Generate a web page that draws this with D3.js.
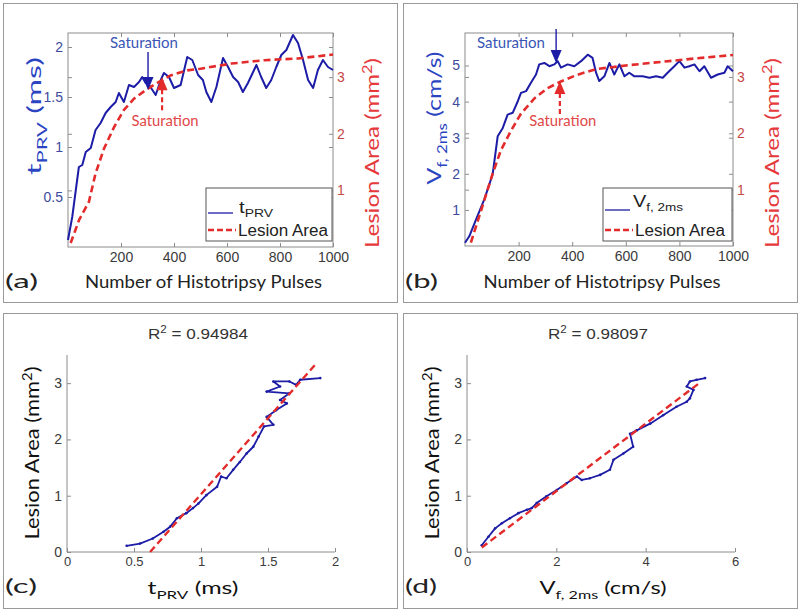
<!DOCTYPE html>
<html><head><meta charset="utf-8">
<script src="https://cdn.jsdelivr.net/npm/d3@7"></script>
<style>
body{margin:0;background:#fff;}
svg{display:block;}
text{font-family:"Liberation Sans",Arial,sans-serif;}
</style></head><body>
<svg id="c" width="800" height="615"></svg>
<script>
// ---------------- DATA ----------------
// Panel (a): t_PRV vs pulses
const pulsesA = [0,16,41,54,67,86,104,123,142,161,180,192,211,230,249,268,280,293,306,331,350,362,381,400,425,450,469,491,509,522,541,560,585,604,623,642,660,679,711,729,748,767,786,805,824,849,868,887,906,925,943,962,981,1000];
const tprvA   = [0.07,0.30,0.80,0.82,0.95,0.99,1.17,1.24,1.34,1.40,1.45,1.54,1.45,1.62,1.60,1.65,1.70,1.64,1.62,1.52,1.67,1.74,1.70,1.59,1.62,1.90,1.87,1.72,1.67,1.55,1.45,1.60,1.89,1.80,1.70,1.65,1.55,1.64,1.82,1.70,1.59,1.67,1.80,1.92,1.97,2.12,2.04,1.87,1.67,1.59,1.77,1.87,1.80,1.77];
const lesionPulsesA = [10,42,79,104,136,174,211,249,293,337,387,450,500,617,742,868,1000];
const lesionA       = [0.07,0.48,0.80,1.30,1.74,2.12,2.42,2.62,2.77,2.90,3.03,3.12,3.15,3.24,3.30,3.33,3.40];
// Panel (b): V_f,2ms vs pulses
const pulsesB = [0,16,41,72,103,122,141,159,178,197,209,228,246,265,277,296,315,333,346,358,383,408,433,458,476,489,501,520,539,557,576,595,613,632,663,688,713,738,756,781,800,819,837,856,875,893,918,943,968,980,1000];
const vfB     = [0.09,0.27,0.73,1.29,1.98,3.04,3.27,3.64,3.69,4.01,4.24,4.29,4.52,4.75,5.03,5.07,4.98,5.03,5.12,4.94,5.03,4.98,5.12,5.30,5.21,4.80,4.57,4.70,5.07,4.75,5.03,4.70,4.80,4.70,4.70,4.66,4.70,4.66,4.80,4.98,5.12,4.94,4.98,5.03,4.84,4.98,4.66,4.75,4.80,4.98,4.84];
const lesionPulsesB = [22,60,103,134,172,209,259,308,358,420,489,613,738,862,1000];
const lesionB       = [0.06,0.63,1.28,1.70,2.05,2.35,2.62,2.80,2.92,3.04,3.14,3.21,3.27,3.33,3.39];
// Panel (c): lesion area vs t_PRV
const tprvC   = [0.445,0.545,0.64,0.72,0.77,0.82,0.89,0.94,0.98,1.04,1.12,1.15,1.19,1.24,1.29,1.34,1.39,1.43,1.47,1.54,1.49,1.56,1.64,1.59,1.66,1.49,1.59,1.54,1.66,1.71,1.74,1.89];
const lesionC = [0.11,0.15,0.24,0.36,0.45,0.60,0.69,0.78,0.86,1.01,1.16,1.34,1.31,1.46,1.60,1.75,1.87,2.05,2.23,2.26,2.40,2.52,2.64,2.70,2.82,2.85,2.94,3.03,3.03,2.97,3.06,3.09];
const fitCx = [0.62,1.86];
const fitCy = [0.0,3.35];
// Panel (d): lesion area vs V_f,2ms
const vfD     = [0.33,0.48,0.63,0.78,0.96,1.15,1.34,1.45,1.56,1.78,2.01,2.23,2.46,2.57,2.75,2.98,3.20,3.28,3.50,3.72,3.65,3.80,4.10,4.39,4.69,4.92,4.99,5.07,4.92,4.99,5.14,5.33];
const lesionD = [0.12,0.27,0.42,0.51,0.60,0.69,0.75,0.78,0.87,0.99,1.10,1.22,1.34,1.28,1.31,1.37,1.46,1.64,1.75,1.87,2.10,2.16,2.28,2.43,2.58,2.67,2.73,2.88,2.94,3.03,3.06,3.09];
const fitDx = [0.33,5.2];
const fitDy = [0.08,3.0];
// Ticks & labels
const pulseTicks = [200,400,600,800,1000];
const tprvTicks = [0.5,1,1.5,2];
const vfTicks = [1,2,3,4,5];
const lesionTicks = [1,2,3];
const tprvTicksC = [0,0.5,1,1.5,2];
const vfTicksD = [0,2,4,6];
const lesionTicksCD = [0,1,2,3];
const r2Values = ["0.94984","0.98097"];
const panelLetters = ["(a)","(b)","(c)","(d)"];
// Saturation annotations: [pulse, value]
const satA = {blue:[302,1.57], red:[355,3.0]};
const satB = {blue:[340,5.07], red:[354,2.93]};

// ---------------- DRAW ----------------
const svg = d3.select('#c');
const CAL = 'Lato,"Open Sans",sans-serif';
const ARIAL = '"Liberation Sans",Arial,sans-serif';
const BLUE = '#1c1ca6', RED = '#e32b2b';
const BLUE_LBL = '#2b44c2', RED_LBL = '#e5393b';
const BLUE_TICK = '#3d4a9e', RED_TICK = '#c54848', GREY_TICK = '#3a3a3a';
const AXC = '#8c8c8c';

// outer panel borders
[[3,3],[403,3],[3,313],[403,313]].forEach(([x,y],i)=>{
  svg.append('rect').attr('x',x+0.5).attr('y',y+0.5).attr('width',394).attr('height',i<2?299:295)
    .attr('fill','none').attr('stroke','#9a9a9a').attr('stroke-width',1);
});

function styleAxis(sel, color, size){
  sel.select('.domain').remove();
  sel.selectAll('.tick line').attr('stroke',AXC);
  sel.selectAll('.tick text').attr('fill',color).style('font-size',(size||14)+'px').style('font-family',ARIAL);
}

function fitText(t, len){ if(len) t.attr('textLength',len).attr('lengthAdjust','spacingAndGlyphs'); return t; }

function subText(g, x, y, parts, opts){
  const t = g.append('text').attr('x',x).attr('y',y)
    .attr('text-anchor',opts.anchor||'middle').attr('fill',opts.fill).style('font-family',opts.family||CAL).style('font-size',opts.size+'px');
  if(opts.rotate) t.attr('transform',`rotate(-90,${x},${y})`);
  let shift=0;
  parts.forEach(p=>{
    const ts=t.append('tspan').text(p.t);
    let target = p.sub? opts.size*0.28 : p.sup? -opts.size*0.38 : 0;
    if(target!==shift){ ts.attr('dy',target-shift); shift=target; }
    if(p.sub||p.sup) ts.style('font-size',(opts.size*0.68)+'px');
  });
  fitText(t, opts.len);
  return t;
}

function arrowHead(g, x, ytip, dir, color){ // dir: +1 pointing down, -1 pointing up
  const h=13, w=5.5;
  g.append('path').attr('d',`M${x},${ytip} L${x-w},${ytip-dir*h} L${x+w},${ytip-dir*h} Z`).attr('fill',color);
}

function dualPanel(o){
  const g = svg.append('g');
  const x = d3.scaleLinear([0,1000],[o.l,o.r]);
  const yL = d3.scaleLinear(o.yLdom,[o.b,o.t]);
  const yR = d3.scaleLinear([0,3.78],[o.b,o.t]);
  g.append('rect').attr('x',o.l).attr('y',o.t).attr('width',o.r-o.l).attr('height',o.b-o.t).attr('fill','#fff').attr('stroke',AXC);
  styleAxis(g.append('g').attr('transform',`translate(0,${o.b})`).call(d3.axisBottom(x).tickValues(pulseTicks).tickSize(-4).tickPadding(5).tickFormat(d3.format('d'))),GREY_TICK);
  styleAxis(g.append('g').attr('transform',`translate(0,${o.t})`).call(d3.axisTop(x).tickValues(pulseTicks).tickSize(-4).tickFormat('')),GREY_TICK);
  styleAxis(g.append('g').attr('transform',`translate(${o.l},0)`).call(d3.axisLeft(yL).tickValues(o.yLticks).tickSize(-4).tickPadding(5).tickFormat(d=>d)),BLUE_TICK);
  styleAxis(g.append('g').attr('transform',`translate(${o.r},0)`).call(d3.axisRight(yL).tickValues(o.yLticks).tickSize(-4).tickFormat('')),BLUE_TICK);
  styleAxis(g.append('g').attr('transform',`translate(${o.r},0)`).call(d3.axisRight(yR).tickValues(lesionTicks).tickSize(-4).tickPadding(4).tickFormat(d=>d)),RED_TICK);
  styleAxis(g.append('g').attr('transform',`translate(${o.l},0)`).call(d3.axisLeft(yR).tickValues(lesionTicks).tickSize(-4).tickFormat('')),RED_TICK);

  const lineR = d3.line().x(d=>x(d[0])).y(d=>yR(d[1]));
  const lineL = d3.line().x(d=>x(d[0])).y(d=>yL(d[1]));
  g.append('path').attr('d',lineL(d3.zip(o.px,o.py))).attr('fill','none').attr('stroke',BLUE).attr('stroke-width',2).attr('stroke-linejoin','round');
  g.append('path').attr('d',lineR(d3.zip(o.lx,o.ly))).attr('fill','none').attr('stroke',RED).attr('stroke-width',2.6).attr('stroke-dasharray','7,4');

  // annotations
  const bx = x(o.sat.blue[0]), by = yL(o.sat.blue[1]);
  g.append('line').attr('x1',bx).attr('x2',bx).attr('y1',o.blueTop).attr('y2',by-10).attr('stroke',BLUE).attr('stroke-width',1.4);
  arrowHead(g,bx,by,1,BLUE);
  fitText(g.append('text').attr('x',o.blueTextX).attr('y',48).attr('text-anchor','middle').attr('fill','#3a55b5').style('font-family',CAL).style('font-size','15px').text('Saturation'),68);
  const rx = x(o.sat.red[0]), ry = yR(o.sat.red[1]);
  g.append('line').attr('x1',rx).attr('x2',rx).attr('y1',ry+12).attr('y2',ry+36).attr('stroke',RED).attr('stroke-width',2.2).attr('stroke-dasharray','5,3');
  arrowHead(g,rx,ry,-1,RED);
  fitText(g.append('text').attr('x',rx+3).attr('y',126).attr('text-anchor','middle').attr('fill','#e04848').style('font-family',CAL).style('font-size','15px').text('Saturation'),67);

  // legend
  const lg = g.append('g');
  lg.append('rect').attr('x',o.lgx).attr('y',188).attr('width',o.r-1-o.lgx).attr('height',53).attr('fill','#fff').attr('stroke','#555');
  lg.append('line').attr('x1',o.lgx+2).attr('x2',o.lgx+27).attr('y1',o.lgLineY).attr('y2',o.lgLineY).attr('stroke',BLUE).attr('stroke-width',1.3);
  subText(lg,o.lgx+o.lgTextDx,o.lgTextY,o.legendParts,{anchor:'start',fill:'#222',size:16,family:ARIAL,len:o.lgLen});
  lg.append('line').attr('x1',o.lgx+2).attr('x2',o.lgx+30).attr('y1',230).attr('y2',230).attr('stroke',RED).attr('stroke-width',2.6).attr('stroke-dasharray','6,3');
  fitText(lg.append('text').attr('x',o.lgx+32).attr('y',236).attr('fill','#222').style('font-size','16px').text('Lesion Area'),90);

  // axis labels
  subText(g,o.yLabelX,o.yLabelY,o.yLabelParts,{fill:BLUE_LBL,size:20,rotate:true,len:o.yLabelLen});
  subText(g,o.r+46,153,[{t:'Lesion Area (mm'},{t:'2',sup:true},{t:')'}],{fill:RED_LBL,size:19,rotate:true,len:190});
  fitText(g.append('text').attr('x',(o.l+o.r)/2+3).attr('y',288).attr('text-anchor','middle').attr('fill','#222').style('font-family',CAL).style('font-size','18px').text('Number of Histotripsy Pulses'),237);
  fitText(g.append('text').attr('x',o.letterX).attr('y',288).attr('fill','#222').style('font-family',CAL).style('font-size','20px').text(o.letter),33);
}

dualPanel({l:68,r:333,t:33,b:247,yLdom:[0,2.14],yLticks:tprvTicks,px:pulsesA,py:tprvA,lx:lesionPulsesA,ly:lesionA,
  sat:satA,blueTop:52,blueTextX:144,lgx:206,lgLineY:213,lgTextY:213,lgTextDx:33,lgLen:34,
  legendParts:[{t:'t'},{t:'PRV',sub:true}],
  yLabelX:41,yLabelY:116,yLabelLen:118,yLabelParts:[{t:'t'},{t:'PRV',sub:true},{t:' (ms)'}],letter:panelLetters[0],letterX:5});

dualPanel({l:465,r:733,t:33,b:246,yLdom:[0,5.9],yLticks:vfTicks,px:pulsesB,py:vfB,lx:lesionPulsesB,ly:lesionB,
  sat:satB,blueTop:29,blueTextX:511,lgx:603,lgLineY:210,lgTextY:207,lgTextDx:30,lgLen:50,
  legendParts:[{t:'V'},{t:'f, 2ms',sub:true}],
  yLabelX:441,yLabelY:118,yLabelLen:133,yLabelParts:[{t:'V'},{t:'f, 2ms',sub:true},{t:' (cm/s)'}],letter:panelLetters[1],letterX:405});

function scatterPanel(o){
  const g = svg.append('g');
  const x = d3.scaleLinear(o.xdom,[o.l,o.r]);
  const y = d3.scaleLinear([0,3.5],[552,355]);
  const ax = g.append('g').attr('transform','translate(0,552)').call(d3.axisBottom(x).tickValues(o.xticks).tickSize(-4).tickPadding(5).tickFormat(d=>d));
  styleAxis(ax,GREY_TICK,13);
  g.append('line').attr('x1',o.l).attr('x2',o.r).attr('y1',552).attr('y2',552).attr('stroke',AXC);
  const ay = g.append('g').attr('transform',`translate(${o.l},0)`).call(d3.axisLeft(y).tickValues(lesionTicksCD).tickSize(-4).tickPadding(5).tickFormat(d=>d));
  styleAxis(ay,GREY_TICK,14);
  g.append('line').attr('x1',o.l).attr('x2',o.l).attr('y1',355).attr('y2',552).attr('stroke',AXC);
  const line = d3.line().x(d=>x(d[0])).y(d=>y(d[1]));
  g.append('path').attr('d',line(d3.zip(o.dx,o.dy))).attr('fill','none').attr('stroke',BLUE).attr('stroke-width',1.8).attr('stroke-linejoin','round');
  g.selectAll(null).data(d3.zip(o.dx,o.dy)).join('circle').attr('cx',d=>x(d[0])).attr('cy',d=>y(d[1])).attr('r',1.3).attr('fill',BLUE);
  g.append('path').attr('d',line(d3.zip(o.fx,o.fy))).attr('fill','none').attr('stroke',RED).attr('stroke-width',2.4).attr('stroke-dasharray','7,4');
  subText(g,(o.l+o.r)/2-3,339,[{t:'R'},{t:'2',sup:true},{t:' = '+o.r2}],{fill:'#333',size:15,family:ARIAL,len:100});
  subText(g,o.l-28,453,[{t:'Lesion Area (mm'},{t:'2',sup:true},{t:')'}],{fill:'#111',size:19,rotate:true,len:173});
  subText(g,o.xlabX,594,o.xlabParts,{fill:'#111',size:18,len:o.xlabLen});
  fitText(g.append('text').attr('x',o.letterX).attr('y',593).attr('fill','#222').style('font-family',CAL).style('font-size','20px').text(o.letter),32);
}

scatterPanel({l:67,r:335,xdom:[0,2],xticks:tprvTicksC,dx:tprvC,dy:lesionC,fx:fitCx,fy:fitCy,r2:r2Values[0],
  xlabX:193,xlabLen:91,xlabParts:[{t:'t'},{t:'PRV',sub:true},{t:' (ms)'}],letter:panelLetters[2],letterX:5});
scatterPanel({l:467,r:735,xdom:[0,6],xticks:vfTicksD,dx:vfD,dy:lesionD,fx:fitDx,fy:fitDy,r2:r2Values[1],
  xlabX:603,xlabLen:127,xlabParts:[{t:'V'},{t:'f, 2ms',sub:true},{t:' (cm/s)'}],letter:panelLetters[3],letterX:405});
</script></body></html>
